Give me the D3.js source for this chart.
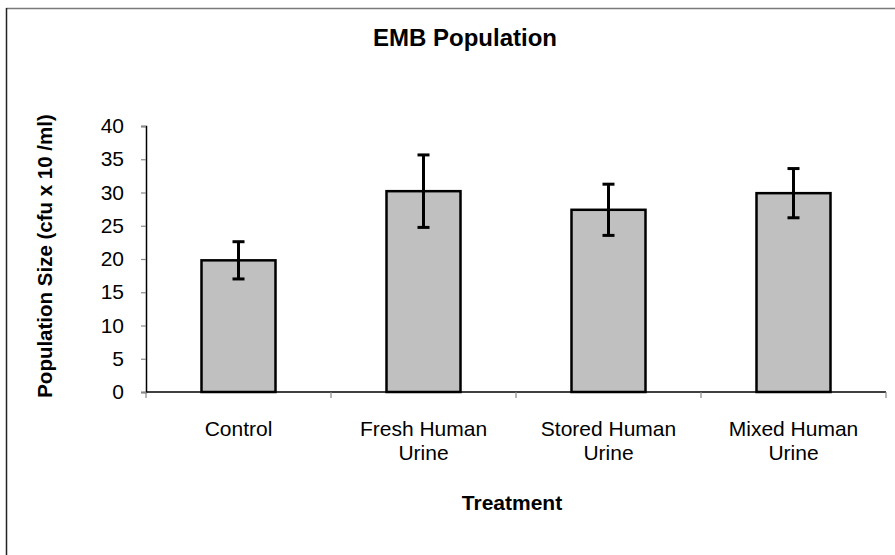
<!DOCTYPE html>
<html>
<head>
<meta charset="utf-8">
<script src="https://cdn.jsdelivr.net/npm/d3@7"></script>
<style>
  html, body { margin: 0; padding: 0; background: #fff; }
  svg { display: block; font-family: Arial, "Liberation Sans", sans-serif; }
</style>
</head>
<body>
<svg id="chart" width="895" height="555"></svg>
<script>
const categories = [["Control"], ["Fresh Human", "Urine"], ["Stored Human", "Urine"], ["Mixed Human", "Urine"]];
const categoryKeys = ["Control", "Fresh Human Urine", "Stored Human Urine", "Mixed Human Urine"];
const values = [19.8, 30.2, 27.4, 29.9];
const errors = [2.8, 5.45, 3.85, 3.7];
const yTicks = [0, 5, 10, 15, 20, 25, 30, 35, 40];
const titleText = "EMB Population";
const xTitle = "Treatment";
const yTitle = "Population Size (cfu x 10 /ml)";

const svg = d3.select("#chart");

// outer frame (top and left edges visible)
svg.append("line").attr("x1", 6).attr("x2", 895).attr("y1", 8.5).attr("y2", 8.5)
  .attr("stroke", "#7a7a7a").attr("stroke-width", 1.5);
svg.append("line").attr("x1", 6.5).attr("x2", 6.5).attr("y1", 8).attr("y2", 555)
  .attr("stroke", "#222").attr("stroke-width", 1.5);

const x = d3.scaleBand().domain(categoryKeys).range([146, 886]).paddingInner(0.6).paddingOuter(0.3);
const y = d3.scaleLinear().domain([0, 40]).range([392, 126]);

// y axis
const yAxis = d3.axisLeft(y).tickValues(yTicks).tickSize(5).tickPadding(17).tickFormat(d3.format("d"));
const gy = svg.append("g").attr("transform", "translate(146,0)").call(yAxis);
gy.select(".domain").attr("stroke", "#000").attr("stroke-width", 1.5);
gy.selectAll(".tick line").attr("stroke", "#888").attr("stroke-width", 1.2);
gy.selectAll(".tick text").attr("font-size", 21).attr("fill", "#000")
  .attr("font-family", "Arial, 'Liberation Sans', sans-serif");

// x axis baseline and category boundary ticks
svg.append("line").attr("x1", 146).attr("x2", 886).attr("y1", y(0)).attr("y2", y(0))
  .attr("stroke", "#000").attr("stroke-width", 1.5);
const half = x.step() * x.paddingInner() / 2;
const bounds = categoryKeys.map(k => x(k) - half).concat([x(categoryKeys[categoryKeys.length - 1]) + x.bandwidth() + half]);
svg.selectAll(".xtick").data(bounds).join("line")
  .attr("class", "xtick")
  .attr("x1", d => d).attr("x2", d => d)
  .attr("y1", y(0)).attr("y2", y(0) + 6)
  .attr("stroke", "#888").attr("stroke-width", 1.2);

// category labels
const lab = svg.selectAll(".cat").data(categories).join("text")
  .attr("class", "cat")
  .attr("text-anchor", "middle")
  .attr("font-size", 21)
  .attr("fill", "#000")
  .attr("x", (d, i) => x(categoryKeys[i]) + x.bandwidth() / 2)
  .attr("y", 436);
lab.selectAll("tspan").data(d => d).join("tspan")
  .attr("x", function() { return d3.select(this.parentNode).attr("x"); })
  .attr("dy", (d, i) => i === 0 ? 0 : 24)
  .text(d => d);

// bars
svg.selectAll(".bar").data(values).join("rect")
  .attr("class", "bar")
  .attr("x", (d, i) => x(categoryKeys[i]))
  .attr("width", x.bandwidth())
  .attr("y", d => y(d))
  .attr("height", d => y(0) - y(d))
  .attr("fill", "#c0c0c0")
  .attr("stroke", "#000")
  .attr("stroke-width", 2.5);

// error bars
const eb = svg.selectAll(".err").data(values).join("g").attr("class", "err");
eb.append("line")
  .attr("x1", (d, i) => x(categoryKeys[i]) + x.bandwidth() / 2)
  .attr("x2", (d, i) => x(categoryKeys[i]) + x.bandwidth() / 2)
  .attr("y1", (d, i) => y(d + errors[i]))
  .attr("y2", (d, i) => y(d - errors[i]))
  .attr("stroke", "#000").attr("stroke-width", 3);
[1, -1].forEach(s => {
  eb.append("line")
    .attr("x1", (d, i) => x(categoryKeys[i]) + x.bandwidth() / 2 - 6)
    .attr("x2", (d, i) => x(categoryKeys[i]) + x.bandwidth() / 2 + 6)
    .attr("y1", (d, i) => y(d + s * errors[i]))
    .attr("y2", (d, i) => y(d + s * errors[i]))
    .attr("stroke", "#000").attr("stroke-width", 3);
});

// titles
svg.append("text").attr("x", 465).attr("y", 46).attr("text-anchor", "middle")
  .attr("font-size", 24).attr("font-weight", "bold").attr("fill", "#000").text(titleText);
svg.append("text").attr("x", 512).attr("y", 510).attr("text-anchor", "middle")
  .attr("font-size", 21).attr("font-weight", "bold").attr("fill", "#000").text(xTitle);
svg.append("text").attr("transform", "translate(52,256) rotate(-90)").attr("text-anchor", "middle")
  .attr("font-size", 20.5).attr("font-weight", "bold").attr("fill", "#000").text(yTitle);
</script>
</body>
</html>
